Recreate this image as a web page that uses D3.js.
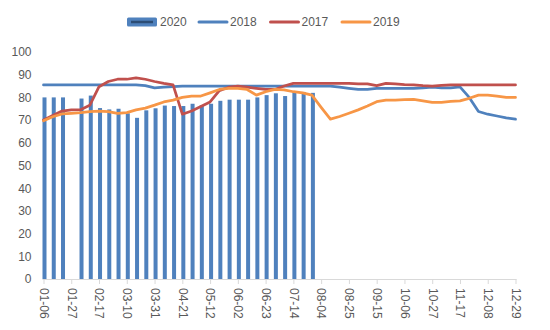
<!DOCTYPE html>
<html>
<head>
<meta charset="utf-8">
<script src="https://cdn.jsdelivr.net/npm/d3@7"></script>
<style>
  body { margin: 0; background: #fff; }
  svg { display: block; font-family: "Liberation Sans", Arial, sans-serif; }
  .axis-label { fill: #595959; font-size: 12px; }
</style>
</head>
<body>
<svg id="chart"></svg>
<script>
// weekly categories (x axis)
const weeks = ['01-06','01-13','01-20','01-27','02-03','02-10','02-17','02-24','03-03','03-10','03-17','03-24','03-31',
  '04-07','04-14','04-21','04-28','05-05','05-12','05-19','05-26','06-02','06-09','06-16','06-23','06-30',
  '07-07','07-14','07-21','07-28','08-04','08-11','08-18','08-25','09-01','09-08','09-15','09-22','09-29',
  '10-06','10-13','10-20','10-27','11-03','11-10','11-17','11-24','12-01','12-08','12-15','12-22','12-29'];

// only every third week gets a label
const tickLabels = ['01-06','01-27','02-17','03-10','03-31','04-21','05-12','06-02','06-23','07-14',
  '08-04','08-25','09-15','10-06','10-27','11-17','12-08','12-29'];

const yTicks = [0, 10, 20, 30, 40, 50, 60, 70, 80, 90, 100];

// 2020 - bars (no data for 01-27, ends at 07-28)
const values2020 = [80, 80, 80, null, 79.5, 80.8, 75.3, 74.7, 75, 73, 71, 74.3, 75.2, 76.4, 76.2, 76.2, 77.2, 76.5, 77.2, 78.5,
  79, 79, 79, 80, 81, 81.8, 80.6, 82.4, 82.4, 82,
  null, null, null, null, null, null, null, null, null, null, null, null, null, null, null, null, null, null, null, null, null, null];

const values2018 = [85.5, 85.5, 85.5, 85.5, 85.5, 85.5, 85.5, 85.5, 85.5, 85.5, 85.5, 85.2, 84.2, 84.5, 84.8,
  85, 85, 85, 85, 85, 85, 85, 85, 85, 85, 85, 85, 85, 85, 85, 85, 85,
  84.5, 84, 83.5, 83.5, 84, 84, 84, 84, 84, 84.2, 84.5, 84.2, 84.2, 84.6, 80, 73.8, 72.6, 71.8, 71, 70.4];

const values2017 = [70, 72, 74, 74.5, 74.6, 76.5, 84.7, 87, 88, 88, 88.6, 88, 87, 86.2, 85.5, 72.6, 74, 76, 78, 83,
  84.5, 85, 84.5, 84, 83.5, 83.5, 85, 86.2, 86.2, 86.2, 86.2, 86.2, 86.2, 86.2, 86, 86, 85.2, 86.2, 86, 85.6,
  85.5, 85.2, 85, 85.3, 85.5, 85.5, 85.5, 85.5, 85.5, 85.5, 85.5, 85.5];

const values2019 = [69.7, 71.5, 72.7, 73, 73.3, 73.7, 74, 73.7, 73, 73.3, 74.5, 75.3, 76.6, 78, 78.8, 80, 80.6, 80.6, 82, 83.5,
  84, 84, 83.5, 81, 82.5, 83.5, 83.3, 82.5, 82, 81, 75.6, 70.4, 71.6, 73, 74.5, 76.2, 78.1, 78.8, 78.8, 79,
  79.1, 78.5, 77.8, 77.8, 78.2, 78.5, 79.6, 81, 81, 80.6, 80, 80];

const lineSeries = [
  { name: '2018', values: values2018, color: '#4F81BD' },
  { name: '2017', values: values2017, color: '#C0504D' },
  { name: '2019', values: values2019, color: '#F79646' }
];

class WeeklyChart {

  constructor(_config) {
    this.config = {
      parentElement: _config.parentElement,
      containerWidth: _config.containerWidth || 550,
      containerHeight: _config.containerHeight || 330,
      margin: _config.margin || {top: 52, right: 34.5, bottom: 51, left: 43.5}
    };
    this.initVis();
  }

  initVis() {
    let vis = this;

    vis.width = vis.config.containerWidth - vis.config.margin.left - vis.config.margin.right;
    vis.height = vis.config.containerHeight - vis.config.margin.top - vis.config.margin.bottom;

    vis.svg = d3.select(vis.config.parentElement)
      .attr('width', vis.config.containerWidth)
      .attr('height', vis.config.containerHeight);

    vis.chart = vis.svg.append('g')
      .attr('transform', `translate(${vis.config.margin.left},${vis.config.margin.top})`);

    // points sit on the tick marks
    vis.xScale = d3.scalePoint()
      .domain(weeks)
      .range([0, vis.width]);

    vis.yScale = d3.scaleLinear()
      .domain([0, 100])
      .range([vis.height, 0]);

    vis.renderVis();
    vis.renderLegend();
  }

  renderVis() {
    let vis = this;
    const barWidth = 4;

    // bars for 2020
    vis.chart.selectAll('.bar')
      .data(weeks.map((w, i) => ({week: w, value: values2020[i]})).filter(d => d.value != null))
      .join('rect')
      .attr('class', 'bar')
      .attr('x', d => vis.xScale(d.week) - barWidth / 2 + 1)
      .attr('width', barWidth)
      .attr('y', d => vis.yScale(d.value))
      .attr('height', d => vis.height - vis.yScale(d.value))
      .attr('fill', '#4F81BD');

    // x axis line + ticks
    const xAxis = d3.axisBottom(vis.xScale)
      .tickValues(tickLabels)
      .tickSizeInner(5)
      .tickSizeOuter(0)
      .tickPadding(8);

    const xAxisG = vis.chart.append('g')
      .attr('transform', `translate(0,${vis.height})`)
      .call(xAxis);
    xAxisG.select('.domain').attr('stroke', '#D9D9D9').attr('d', `M-1,0.5H${vis.width + 1}`);
    xAxisG.selectAll('.tick line').attr('stroke', '#D9D9D9');
    xAxisG.selectAll('.tick text')
      .attr('class', 'axis-label')
      .attr('y', 0)
      .attr('x', 0)
      .attr('dy', '0.35em')
      .attr('transform', 'translate(0,9) rotate(90)')
      .style('text-anchor', 'start')
      .attr('fill', '#595959')
      .attr('font-size', 12)
      .attr('font-family', null);

    // y axis: labels only
    const yAxis = d3.axisLeft(vis.yScale)
      .tickValues(yTicks)
      .tickSize(0)
      .tickPadding(12);
    const yAxisG = vis.chart.append('g').call(yAxis);
    yAxisG.select('.domain').remove();
    yAxisG.selectAll('.tick text')
      .attr('class', 'axis-label')
      .attr('fill', '#595959')
      .attr('font-size', 12)
      .attr('font-family', null);

    const line = d3.line()
      .defined(d => d.value != null)
      .x(d => vis.xScale(d.week))
      .y(d => vis.yScale(d.value));

    vis.chart.selectAll('.series-line')
      .data(lineSeries)
      .join('path')
      .attr('class', 'series-line')
      .attr('fill', 'none')
      .attr('stroke', d => d.color)
      .attr('stroke-width', 2.75)
      .attr('stroke-linejoin', 'round')
      .attr('stroke-linecap', 'round')
      .attr('d', d => line(weeks.map((w, i) => ({week: w, value: d.values[i]}))));
  }

  renderLegend() {
    let vis = this;
    const legend = vis.svg.append('g').attr('transform', 'translate(127,22)');

    // 2020 swatch: filled box with darker stroke inside
    legend.append('rect')
      .attr('x', 0).attr('y', -4.5)
      .attr('width', 30).attr('height', 9)
      .attr('rx', 1.5)
      .attr('fill', '#4F81BD');
    legend.append('line')
      .attr('x1', 4).attr('x2', 26)
      .attr('stroke', '#2C4D75').attr('stroke-width', 2.5);
    legend.append('text')
      .attr('class', 'axis-label')
      .attr('x', 33).attr('dy', '0.35em')
      .style('font-size', '12px')
      .text('2020');

    const items = legend.selectAll('.legend-item')
      .data(lineSeries)
      .join('g')
      .attr('class', 'legend-item')
      .attr('transform', (d, i) => `translate(${71 + i * 71.5},0)`);

    items.append('line')
      .attr('x1', 1).attr('x2', 29)
      .attr('stroke', d => d.color)
      .attr('stroke-width', 3)
      .attr('stroke-linecap', 'round');

    items.append('text')
      .attr('class', 'axis-label')
      .attr('x', 32).attr('dy', '0.35em')
      .text(d => d.name);
  }
}

new WeeklyChart({ parentElement: '#chart' });
</script>
</body>
</html>
